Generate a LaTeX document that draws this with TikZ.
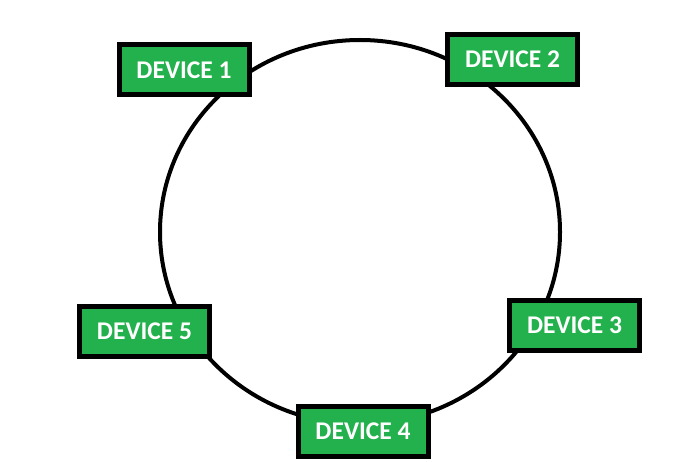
\documentclass[tikz,border=0pt]{standalone}
\usepackage{fontspec}
\setmainfont{Carlito}
\usepackage{xcolor}
\definecolor{paintgreen}{RGB}{34,177,76}

\begin{document}
\begin{tikzpicture}[
        x=1pt, y=-1pt,
        device/.style={rectangle, draw=black, fill=paintgreen, line width=5pt,
          minimum width=130pt, minimum height=50pt, text=white, inner sep=0pt,
          font=\fontsize{25.5}{28}\selectfont\bfseries},
        ringline/.style={draw=black, line width=4pt}
      ]
      \useasboundingbox (0,0) rectangle (684,462);

      % Ring
      \coordinate (hub) at (360,232);
      \draw[ringline] (hub) ellipse [x radius=200, y radius=192];

      % Devices on the ring
      \node[device] (D1) at (184,70)    {DEVICE 1};
      \node[device] (D2) at (512.5,59.5) {DEVICE 2};
      \node[device] (D3) at (574.5,325) {DEVICE 3};
      \node[device] (D4) at (363,431)   {DEVICE 4};
      \node[device] (D5) at (144.5,331) {DEVICE 5};

    \end{tikzpicture}
\end{document}
